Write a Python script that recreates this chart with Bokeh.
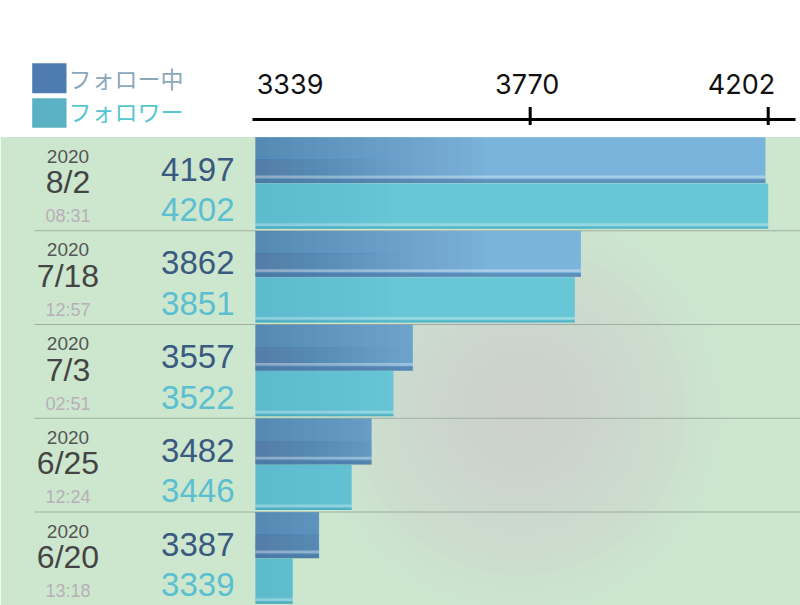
import numpy as np
from bokeh.core.properties import value
from bokeh.embed import file_html
from bokeh.models import ColumnDataSource, Range1d
from bokeh.plotting import figure
from bokeh.resources import INLINE

# data, newest first
years = ["2020", "2020", "2020", "2020", "2020"]
dates = ["8/2", "7/18", "7/3", "6/25", "6/20"]
times = ["08:31", "12:57", "02:51", "12:24", "13:18"]
following = [4197, 3862, 3557, 3482, 3387]
followers = [4202, 3851, 3522, 3446, 3339]
tick_values = [3339, 3770, 4202]
series_names = ["フォロー中", "フォロワー"]

# layout helpers (page pixels -> data units)
PX = 0.551       # pixels per follower
BASE = 3271.5    # value at the left edge of the bars
BAR_X = 255      # page x where the bars start
ROW = 93.75      # height of one date group
ROW_TOP = 136.5  # page y of first group


def rx(px):
    return BASE + (px - BAR_X) / PX


def ry(py):
    return (py - ROW_TOP) / ROW


p = figure(width=800, height=605, output_backend="svg", toolbar_location=None,
           x_range=Range1d(rx(0), rx(800)), y_range=Range1d(ry(605), ry(0)),
           x_axis_location=None, y_axis_location=None,
           min_border=0, background_fill_color="white", border_fill_color="white",
           outline_line_color=None)
p.grid.visible = False

# green panel + soft grey blotch
p.quad(left=rx(0), right=rx(800), top=ry(ROW_TOP), bottom=ry(610),
       fill_color="#cce7ce", line_color=None)
radii = list(range(210, 20, -15))
p.circle(x=[rx(520)] * len(radii), y=[ry(410)] * len(radii), radius=radii,
         radius_units="screen", fill_color="#c4b8c4", fill_alpha=0.022, line_color=None)

n = len(dates)
idx = np.arange(n)

# separators between groups
p.segment(x0=rx(34), x1=rx(800), y0=idx[1:], y1=idx[1:], line_color="#9fae9f", line_width=1)

fol = np.array(following, dtype=float)
flw = np.array(followers, dtype=float)

# following bars (blue), darker towards the lower left
p.hbar(y=idx + 0.247, left=BASE, right=fol, height=0.49, fill_color="#7ab3db", line_color=None)
for w in range(12, 240, 12):
    p.hbar(y=idx + 0.247, left=BASE, right=np.minimum(fol, BASE + w / PX), height=0.49,
           fill_color="#2f5a90", fill_alpha=0.025, line_color=None)
for w in range(12, 160, 12):
    p.hbar(y=idx + 0.34, left=BASE, right=np.minimum(fol, BASE + w / PX), height=0.2,
           fill_color="#2f5a90", fill_alpha=0.012, line_color=None)
p.hbar(y=idx + 0.425, left=BASE, right=fol, height=0.03, fill_color="white",
       fill_alpha=0.35, line_color=None)
p.hbar(y=idx + 0.47, left=BASE, right=fol, height=0.04, fill_color="#3d6596",
       fill_alpha=0.45, line_color=None)

# follower bars (cyan)
p.hbar(y=idx + 0.738, left=BASE, right=flw, height=0.483, fill_color="#67c7d6", line_color=None)
for w in range(15, 150, 15):
    p.hbar(y=idx + 0.738, left=BASE, right=np.minimum(flw, BASE + w / PX), height=0.483,
           fill_color="#3a9fb5", fill_alpha=0.015, line_color=None)
p.hbar(y=idx + 0.935, left=BASE, right=flw, height=0.03, fill_color="white",
       fill_alpha=0.3, line_color=None)
p.hbar(y=idx + 0.968, left=BASE, right=flw, height=0.022, fill_color="#3a9aae",
       fill_alpha=0.4, line_color=None)

# row texts (vertical centres of the digits inside each group)
src = ColumnDataSource(dict(
    year_y=idx + 19.0 / ROW, date_y=idx + 45.0 / ROW, time_y=idx + 79.0 / ROW,
    fol_y=idx + 32.0 / ROW, flw_y=idx + 72.5 / ROW,
    years=years, dates=dates, times=times,
    fol_txt=[str(v) for v in following], flw_txt=[str(v) for v in followers],
))
font = value("Liberation Sans")
p.text(x=rx(67.5), y="year_y", text="years", source=src, text_align="center",
       text_baseline="middle", text_font=font, text_font_size="19px", text_color="#555555")
p.text(x=rx(67.5), y="date_y", text="dates", source=src, text_align="center",
       text_baseline="middle", text_font=font, text_font_size="32px", text_color="#444444")
p.text(x=rx(67.5), y="time_y", text="times", source=src, text_align="center",
       text_baseline="middle", text_font=font, text_font_size="18px", text_color="#b8afb8")
p.text(x=rx(234), y="fol_y", text="fol_txt", source=src, text_align="right",
       text_baseline="middle", text_font=font, text_font_size="33px", text_color="#3a5a80")
p.text(x=rx(234), y="flw_y", text="flw_txt", source=src, text_align="right",
       text_baseline="middle", text_font=font, text_font_size="33px", text_color="#5bbfd0")

# top axis: line, tick marks at the upper values, labels spread along it
p.segment(x0=rx(252), x1=rx(795), y0=ry(119), y1=ry(119), line_color="black", line_width=3)
p.segment(x0=tick_values[1:], x1=tick_values[1:], y0=ry(106.5), y1=ry(124.5),
          line_color="black", line_width=3)
tick_src = ColumnDataSource(dict(
    x=tick_values, text=[str(v) for v in tick_values],
    align=["left", "center", "right"], off=[-36, -3, 7],
))
p.text(x="x", y=ry(83), text="text", source=tick_src, text_align="align", x_offset="off",
       text_baseline="middle", text_font=value("Inter"), text_font_size="27px",
       text_color="#111111")

# legend
p.quad(left=rx(31.7), right=rx(66), top=[ry(62.7), ry(97.7)], bottom=[ry(92.7), ry(127.3)],
       fill_color=["#4f7cb0", "#5ab1c4"], line_color=None)
p.text(x=rx(68), y=[ry(77.5), ry(110.5)], text=series_names, text_baseline="middle",
       text_font=value("Noto Sans CJK JP"), text_font_size="23px",
       text_color=["#8ba7bb", "#55c6d0"])

open("out.html", "w").write(file_html(p, INLINE))
